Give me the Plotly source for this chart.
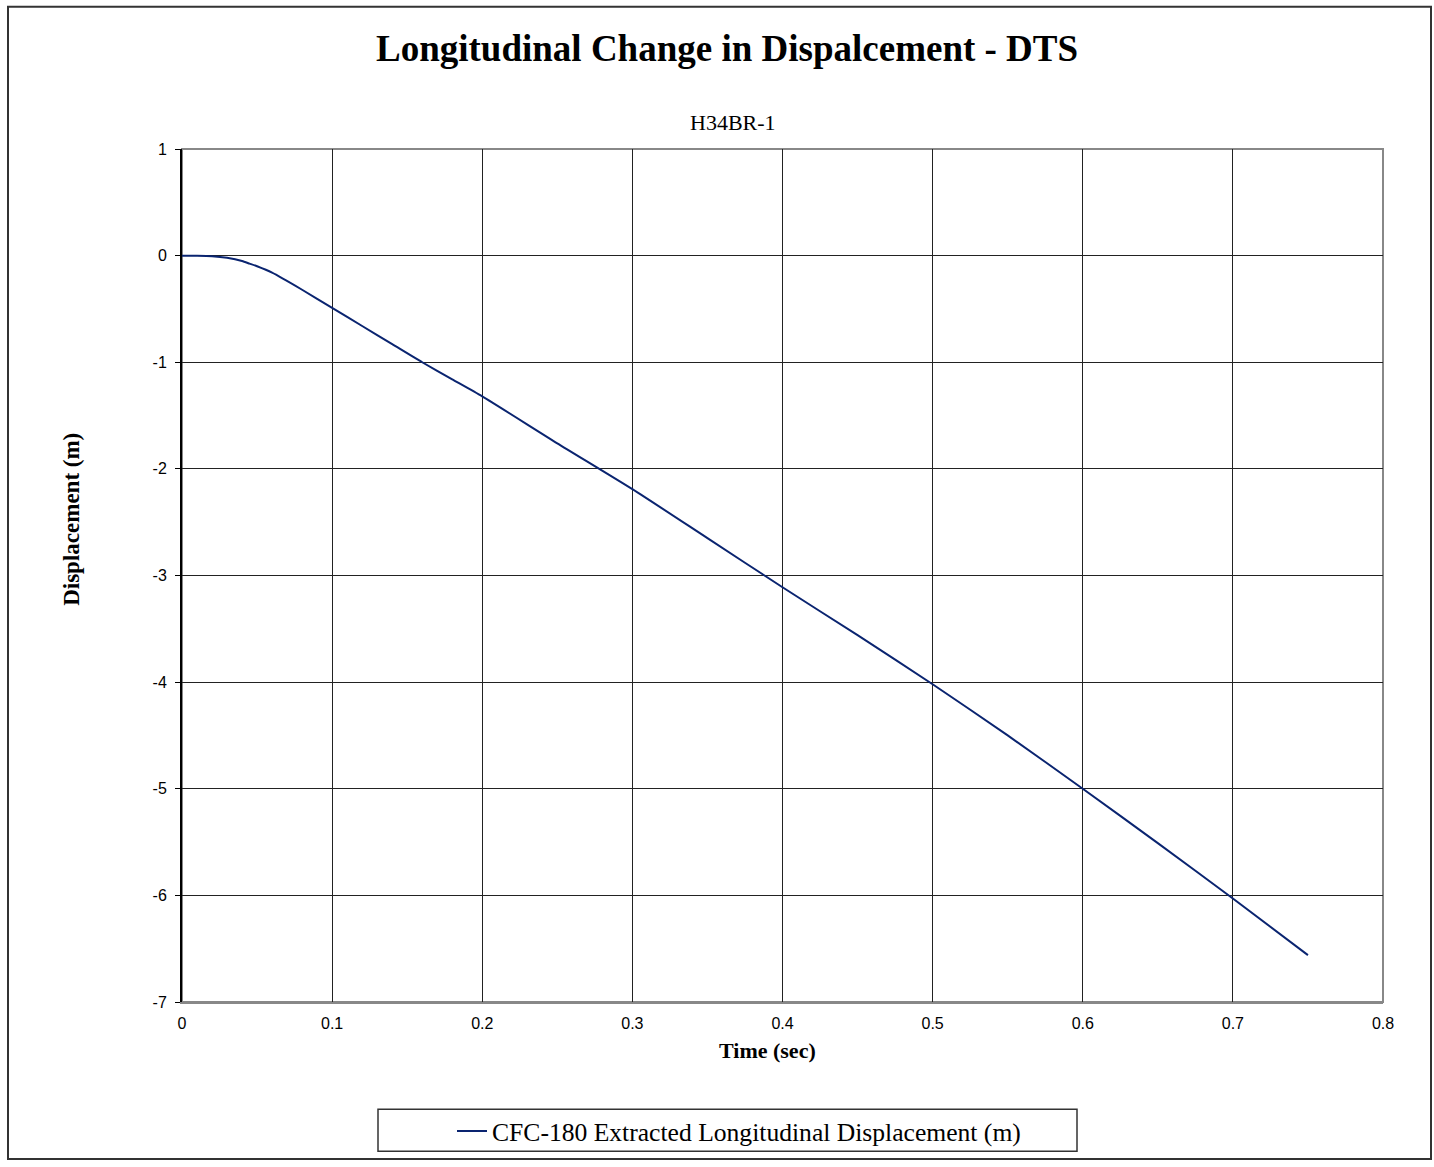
import plotly.graph_objects as go

time_s = [0, 0.01, 0.02, 0.03, 0.04, 0.045, 0.05, 0.06, 0.08, 0.1, 0.12, 0.14, 0.16,
          0.18, 0.2, 0.25, 0.3, 0.35, 0.4, 0.45, 0.5, 0.55, 0.6, 0.65, 0.7, 0.75]
disp_m = [0, -0.001, -0.005, -0.02, -0.05, -0.075, -0.1, -0.16, -0.32, -0.49, -0.66,
          -0.83, -1.0, -1.16, -1.32, -1.76, -2.19, -2.65, -3.11, -3.56, -4.02, -4.5,
          -5.0, -5.51, -6.03, -6.56]

x_ticks = [0, 0.1, 0.2, 0.3, 0.4, 0.5, 0.6, 0.7, 0.8]
y_ticks = [1, 0, -1, -2, -3, -4, -5, -6, -7]

W, H = 1434, 1167
L, T = 182, 149
R = W - 1383
B = H - 1007
PW, PH = W - L - R, H - T - B


def px(x):
    return (x - L) / PW


def py(y):
    return (H - B - y) / PH


fig = go.Figure()
fig.add_trace(go.Scatter(
    x=time_s, y=disp_m, mode="lines",
    line=dict(color="#0a2470", width=2, shape="spline", smoothing=0.6),
    name="CFC-180 Extracted Longitudinal Displacement (m)",
))

serif = "Liberation Serif, Times New Roman, serif"
sans = "Liberation Sans, Arial, sans-serif"

fig.update_layout(
    width=W, height=H,
    margin=dict(l=L, r=R, t=T, b=B),
    paper_bgcolor="white", plot_bgcolor="white",
    showlegend=True,
    legend=dict(
        orientation="h", x=px(452), xanchor="left", y=py(1137), yanchor="middle",
        font=dict(family=serif, size=25.6, color="black"),
        bgcolor="rgba(0,0,0,0)", borderwidth=0,
    ),
    xaxis=dict(
        range=[0, 0.8], tickvals=x_ticks, ticktext=[str(v) for v in x_ticks],
        showgrid=True, gridcolor="#222", gridwidth=1,
        showline=True, linecolor="#888", linewidth=2,
        ticks="", zeroline=False, ticklabelstandoff=6,
        tickfont=dict(family=sans, size=16, color="black"),
    ),
    yaxis=dict(
        range=[-7, 1], tickvals=y_ticks, ticktext=[str(v) for v in y_ticks],
        showgrid=True, gridcolor="#222", gridwidth=1,
        showline=True, linecolor="black", linewidth=2,
        ticks="outside", ticklen=5, tickcolor="black",
        zeroline=False, ticklabelstandoff=5,
        tickfont=dict(family=sans, size=16, color="black"),
    ),
    annotations=[
        dict(text="<b>Longitudinal Change in Dispalcement - DTS</b>", xref="paper", yref="paper",
             x=px(727), y=py(48), xanchor="center", yanchor="middle", showarrow=False,
             font=dict(family=serif, size=37, color="black")),
        dict(text="H34BR-1", xref="paper", yref="paper",
             x=px(733), y=py(122), xanchor="center", yanchor="middle", showarrow=False,
             font=dict(family=serif, size=22, color="black")),
        dict(text="<b>Time (sec)</b>", xref="paper", yref="paper",
             x=px(767), y=py(1056), xanchor="center", yanchor="middle", showarrow=False,
             font=dict(family=serif, size=22, color="black")),
        dict(text="<b>Displacement (m)</b>", xref="paper", yref="paper", textangle=-90,
             x=px(72), y=py(522), xanchor="center", yanchor="middle", showarrow=False,
             font=dict(family=serif, size=23, color="black")),
    ],
    shapes=[
        dict(type="rect", xref="paper", yref="paper", x0=0, x1=1, y0=0, y1=1,
             line=dict(color="#888", width=2), layer="below"),
        dict(type="rect", xref="paper", yref="paper", x0=px(378), x1=px(1077), y0=py(1157), y1=py(1115),
             line=dict(color="#333", width=1.5)),
        dict(type="rect", xref="paper", yref="paper", x0=px(8), x1=px(1431),
             y0=py(1165), y1=py(6),
             line=dict(color="#333", width=2)),
    ],
)

fig.write_html(
    "out.html", config={"displayModeBar": False},
    post_script=("document.body.style.margin='0px';"
                 "document.body.style.overflow='hidden';"
                 "document.documentElement.style.overflow='hidden';"),
)
